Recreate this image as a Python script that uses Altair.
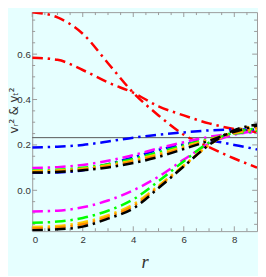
import altair as alt
import pandas as pd

# radial coordinate samples
r_vals = [0, 1, 2, 3, 4, 5, 6, 7, 8, 8.9]

# family A (upper group)
red_a = [0.785, 0.762, 0.69, 0.56, 0.43, 0.33, 0.245, 0.19, 0.14, 0.10]
blue_a = [0.189, 0.192, 0.2, 0.215, 0.232, 0.245, 0.255, 0.264, 0.268, 0.268]
magenta_a = [0.098, 0.102, 0.112, 0.13, 0.155, 0.185, 0.212, 0.235, 0.25, 0.255]
green_a = [0.087, 0.09, 0.099, 0.115, 0.138, 0.167, 0.198, 0.226, 0.25, 0.262]
yellow_a = [0.084, 0.087, 0.095, 0.11, 0.132, 0.16, 0.192, 0.223, 0.252, 0.27]
orange_a = [0.081, 0.084, 0.092, 0.106, 0.127, 0.154, 0.187, 0.22, 0.254, 0.277]
black_a = [0.078, 0.081, 0.088, 0.101, 0.12, 0.147, 0.182, 0.218, 0.258, 0.285]

# family B (lower group)
red_b = [0.584, 0.575, 0.53, 0.475, 0.43, 0.37, 0.33, 0.295, 0.27, 0.257]
blue_b = [0.077, 0.079, 0.088, 0.115, 0.145, 0.178, 0.202, 0.217, 0.2, 0.18]
magenta_b = [-0.093, -0.09, -0.075, -0.045, 0.0, 0.06, 0.135, 0.205, 0.245, 0.262]
green_b = [-0.143, -0.138, -0.122, -0.09, -0.04, 0.04, 0.128, 0.21, 0.255, 0.272]
yellow_b = [-0.162, -0.157, -0.142, -0.11, -0.062, 0.02, 0.11, 0.2, 0.26, 0.282]
orange_b = [-0.168, -0.164, -0.15, -0.117, -0.07, 0.015, 0.107, 0.2, 0.262, 0.286]
black_b = [-0.176, -0.172, -0.16, -0.125, -0.08, 0.01, 0.105, 0.2, 0.265, 0.29]

series = [
    ("red_b", "#ff0000", red_b), ("red_a", "#ff0000", red_a),
    ("blue_b", "#0000ff", blue_b), ("blue_a", "#0000ff", blue_a),
    ("magenta_b", "#ff00ff", magenta_b), ("magenta_a", "#ff00ff", magenta_a),
    ("green_b", "#00ff00", green_b), ("green_a", "#00ff00", green_a),
    ("yellow_b", "#ffcc00", yellow_b), ("yellow_a", "#ffcc00", yellow_a),
    ("orange_b", "#ff8c00", orange_b), ("orange_a", "#ff8c00", orange_a),
    ("black_b", "#000000", black_b), ("black_a", "#000000", black_a),
]

ref_line = [0.232]

x_major = [0, 2, 4, 6, 8]
x_minor = [0.5, 1, 1.5, 2.5, 3, 3.5, 4.5, 5, 5.5, 6.5, 7, 7.5, 8.5]
y_major = [0.0, 0.2, 0.4, 0.6]
y_minor = [-0.15, -0.1, -0.05, 0.05, 0.1, 0.15, 0.25, 0.3, 0.35, 0.45, 0.5, 0.55, 0.65, 0.7, 0.75]

rows = []
for i, (name, col, vals) in enumerate(series):
    for rv, vv in zip(r_vals, vals):
        rows.append({"r": rv, "v": vv, "series": name, "k": i})
df = pd.DataFrame(rows)

W, H = 232, 226
BG = "#e6ffff"
FRAME = "#9a9a9a"
LABEL_FONT = "Liberation Sans Narrow, Liberation Sans"

xs = alt.Scale(domain=[0, 8.9], nice=False, zero=False)
ys = alt.Scale(domain=[-0.18, 0.785], nice=False, zero=False)

x_axis = alt.Axis(
    values=x_major, format="d", ticks=False, domain=False, grid=False,
    labelFont=LABEL_FONT, labelFontSize=10, labelColor="#333333", labelPadding=4,
    title="r", titleFont="Liberation Serif", titleFontStyle="italic",
    titleFontWeight="normal", titleFontSize=19, titleColor="#333333",
    titleBaseline="alphabetic", titleY=38,
)
y_axis = alt.Axis(
    values=y_major, format=".1f", ticks=False, domain=False, grid=False,
    labelFont=LABEL_FONT, labelFontSize=10, labelColor="#333333", labelPadding=2,
    title="vᵣ² & vₜ²", titleFont="DejaVu Sans", titleFontWeight="normal",
    titleFontSize=12, titleColor="#333333", titleAngle=270,
    titleBaseline="middle", titleAlign="center", titleX=-19, titleY=101,
)

lines = alt.Chart(df).mark_line(
    strokeWidth=2.6, strokeDash=[11, 5, 2.5, 5], interpolate="monotone", clip=True
).encode(
    x=alt.X("r:Q", scale=xs, axis=x_axis),
    y=alt.Y("v:Q", scale=ys, axis=y_axis),
    color=alt.Color("series:N",
                    scale=alt.Scale(domain=[s[0] for s in series], range=[s[1] for s in series]),
                    legend=None),
    order=alt.Order("k:Q"),
)

hline = alt.Chart(pd.DataFrame({"v": ref_line})).mark_rule(
    color="#555555", strokeWidth=1
).encode(y=alt.Y("v:Q", scale=ys))

def xticks(vals, length):
    d = pd.DataFrame({"r": vals})
    bot = alt.Chart(d).mark_rule(color=FRAME, strokeWidth=1).encode(
        x=alt.X("r:Q", scale=xs), y=alt.value(H), y2=alt.value(H - length))
    top = alt.Chart(d).mark_rule(color=FRAME, strokeWidth=1).encode(
        x=alt.X("r:Q", scale=xs), y=alt.value(0), y2=alt.value(length))
    return [bot, top]

def yticks(vals, length):
    d = pd.DataFrame({"v": vals})
    left = alt.Chart(d).mark_rule(color=FRAME, strokeWidth=1).encode(
        y=alt.Y("v:Q", scale=ys), x=alt.value(0), x2=alt.value(length))
    right = alt.Chart(d).mark_rule(color=FRAME, strokeWidth=1).encode(
        y=alt.Y("v:Q", scale=ys), x=alt.value(W), x2=alt.value(W - length))
    return [left, right]

layers = [hline] + xticks(x_major, 5) + xticks(x_minor, 3) + yticks(y_major, 5) + yticks(y_minor, 3) + [lines]

chart = alt.layer(*layers).properties(
    width=W, height=H,
    autosize=alt.AutoSizeParams(type="none"),
    padding={"left": 25, "top": 0, "right": 1, "bottom": 42},
    background=BG,
).configure_view(
    fill=BG, stroke=FRAME, strokeWidth=1
)

chart.save("out.html", embed_options={"renderer": "svg", "actions": False})
